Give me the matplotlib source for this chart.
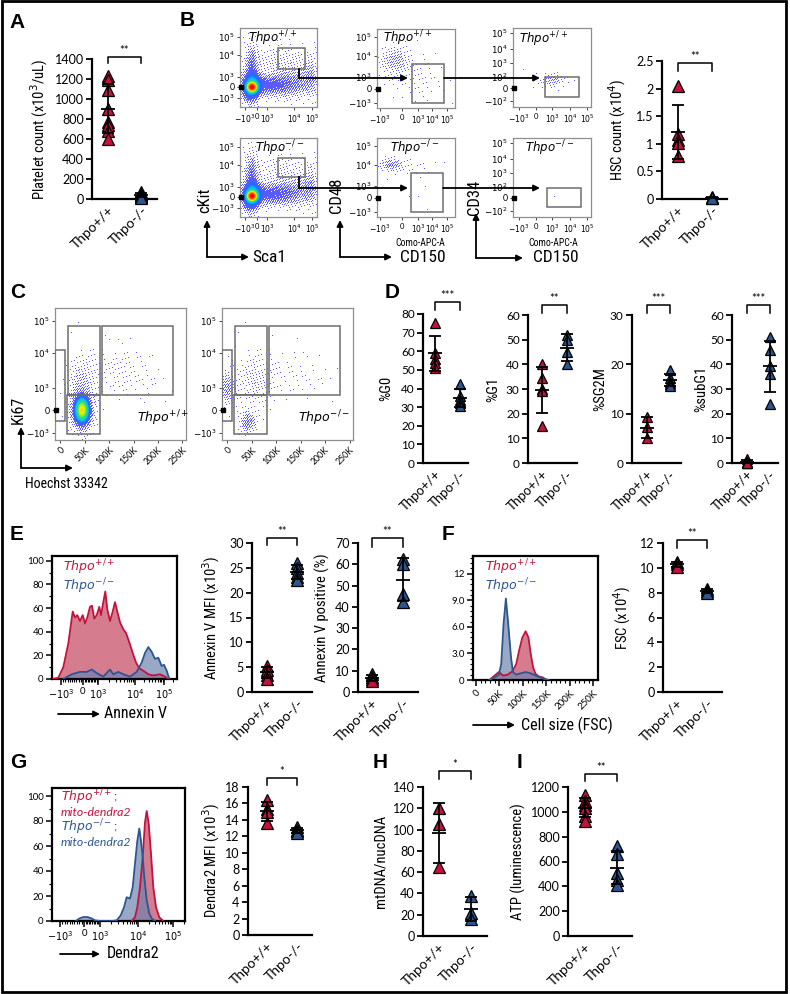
import numpy as np
import matplotlib
matplotlib.use("Agg")
import matplotlib.pyplot as plt
from matplotlib.patches import Rectangle, FancyArrowPatch
from matplotlib.lines import Line2D
from matplotlib.colors import LinearSegmentedColormap

plt.rcParams['font.family'] = ['Lato', 'DejaVu Sans']
plt.rcParams['mathtext.fontset'] = 'dejavusans'

W, H = 790, 994
RED = '#c3123b'
BLUE = '#2d5590'
NARROW = ['Roboto Condensed', 'Liberation Sans Narrow', 'Liberation Sans']
groups = ['Thpo+/+', 'Thpo-/-']
WT = r'$\mathit{Thpo}^{+/+}$'
KO = r'$\mathit{Thpo}^{-/-}$'

# ---- dot plots, one value per mouse ----
platelet_wt = [1235, 1195, 1095, 900, 775, 745, 680, 600]
platelet_ko = [75, 55, 40, 30, 20, 15]
hsc_wt = [2.05, 1.18, 1.07, 1.02, 0.78]
hsc_ko = [0.03, 0.02, 0.01]
g0_wt = [75, 59, 56, 53.5, 51]
g0_ko = [42.5, 36, 34, 32, 30.5]
g1_wt = [40, 34.5, 30, 29, 15]
g1_ko = [52, 50, 45, 40]
sg2m_wt = [9.3, 7.2, 5]
sg2m_ko = [18.8, 17.3, 16.5, 16, 15.6]
subg1_wt = [1.5, 0.6, 0.2, 0, 0]
subg1_ko = [51, 46, 39.5, 36, 24]
annexin_mfi_wt = [5.3, 4.4, 3.5, 2.7]
annexin_mfi_ko = [26, 25, 24, 23.2, 22.5]
annexin_pos_wt = [8.5, 7.2, 6, 5]
annexin_pos_ko = [62.5, 60, 46, 42.5]
fsc_wt = [10.5, 10.3, 10.1]
fsc_ko = [8.3, 8.1, 7.95]
dendra_wt = [16.4, 15.3, 14.9, 13.6]
dendra_ko = [13.1, 12.8, 12.6, 12.4]
mtdna_wt = [120, 105, 65]
mtdna_ko = [38, 22, 16]
atp_wt = [1135, 1090, 1055, 1030, 965, 930]
atp_ko = [725, 660, 510, 450, 410]

# ---- histograms ----
# E: Annexin V, x in channels of the biexponential display axis, y in % of max
annexin_x_wt = [0.3, 6.3, 11.3, 16.3, 20.7, 23, 25.3, 28, 30.7, 33, 35.3, 38, 40, 42.3, 44.7, 47.3,
                49, 51.3, 53.3, 55.3, 58, 60.7, 63, 65.3, 68, 71.3, 74, 77.3, 80.7, 84, 87.3, 91.3,
                96.3, 101.3, 108, 113, 116.3]
annexin_y_wt = [0, 1, 10, 30, 57, 52, 54, 49, 54, 47, 52, 61, 62, 51, 54, 61,
                54, 65, 74, 59, 49, 57, 65, 57, 48, 42, 39, 31, 22, 14, 9, 7,
                4, 3, 4, 2, 0]
annexin_x_ko = [11.3, 19.7, 28, 34.7, 39.7, 44.7, 51.3, 58, 61.3, 66.3, 71.3, 78, 84.7, 89.7,
                93, 96.3, 99.7, 103, 106.3, 109.7, 112, 114.7, 117.3]
annexin_y_ko = [0, 4, 6, 6, 8, 5, 2, 8, 4, 6, 4, 2, 6, 14, 22, 27, 23, 17, 18, 11, 12, 7, 0]
# F: forward scatter (K)
fsch_x_wt = [29, 40, 49, 58, 68, 78, 86, 92, 99, 106, 112, 117, 122, 127, 134, 142, 151]
fsch_y_wt = [0, 0.5, 0.9, 0.5, 0.6, 1.0, 1.8, 3.3, 4.8, 5.5, 4.8, 2.9, 1.4, 0.7, 0.4, 0.3, 0]
fsch_x_ko = [29, 40, 49, 54, 59, 64, 69, 75, 79, 86, 95, 106, 117, 127, 141, 155]
fsch_y_ko = [0, 0.3, 0.6, 1.8, 6.3, 9.2, 6.3, 2.5, 0.9, 0.6, 0.75, 0.9, 0.75, 0.5, 0.2, 0]
# G: Dendra2
dendh_x_wt = [79.7, 83, 85.3, 88, 90.7, 93, 94.7, 96.7, 98.7, 101.3, 104, 107.3, 111.3]
dendh_y_wt = [0, 3, 11, 27, 51, 79, 88, 78, 57, 27, 11, 3, 0]
dendh_x_ko = [24, 27.3, 31.3, 35.3, 39.7, 43, 48, 59.7, 64.7, 68.7, 72, 74.7, 78, 80.7, 83, 85.3,
              87.3, 89, 90.7, 92.3, 94.7, 97.3, 99.7, 103]
dendh_y_ko = [0, 2, 3.2, 3.2, 2, 0.5, 0, 0, 0.5, 4.5, 11, 19, 18, 27, 46, 64,
              74, 64, 51, 35, 16.5, 6, 2, 0]

# ---- flow density clouds: [cx, cy, sx, sy, events] in display channels ----
lsk_wt = [[12, 20, 2.5, 2.5, 40], [12, 21, 5, 6, 4], [12, 32, 4, 16, 1.0], [30, 22, 14, 6, 0.9],
          [55, 24, 14, 8, 0.45], [70, 32, 4, 10, 0.35], [42, 45, 18, 10, 0.14], [8, 10, 4, 4, 0.4]]
lsk_ko = [[12, 21, 2.5, 2.5, 40], [12, 22, 5, 6, 4], [12, 33, 4, 16, 1.0], [30, 23, 14, 6, 0.9],
          [55, 25, 14, 8, 0.45], [70, 33, 4, 10, 0.35], [42, 46, 18, 10, 0.12], [8, 11, 4, 4, 0.4]]
slam_wt = [[18, 48, 8, 7, 0.3], [25, 40, 15, 12, 0.06], [48, 25, 14, 12, 0.03]]
slam_ko = [[14, 52, 7, 3.5, 0.45], [30, 50, 15, 6, 0.05], [45, 25, 15, 12, 0.006]]
hsc34_wt = [[40, 27, 7, 3, 0.3], [38, 25, 12, 5, 0.06]]
hsc34_ko = [[45, 22, 6, 4, 0.015]]
cycle_wt = [[27, 30, 3.5, 6, 12], [27, 30, 6, 11, 1.4], [27, 58, 8, 15, 0.22],
            [62, 70, 16, 14, 0.06], [88, 60, 12, 14, 0.02]]
cycle_ko = [[5, 52, 5, 9, 0.45], [26, 18, 4.5, 6, 0.6], [34, 60, 12, 16, 0.14],
            [75, 65, 20, 14, 0.03]]

fig = plt.figure(figsize=(W / 100, H / 100), dpi=100)


def px_ax(x0, y0, x1, y1):
    return fig.add_axes([x0 / W, 1 - y1 / H, (x1 - x0) / W, (y1 - y0) / H])


def P(x, y):
    return (x / W, 1 - y / H)


def ftext(x, y, s, **kw):
    kw.setdefault('va', 'center')
    fig.text(x / W, 1 - y / H, s, **kw)


def arrow(x0, y0, x1, y1):
    fig.add_artist(FancyArrowPatch(P(x0, y0), P(x1, y1), transform=fig.transFigure,
                                   arrowstyle='-|>', mutation_scale=9, lw=1.3, color='black',
                                   shrinkA=0, shrinkB=0))


def line(xs, ys):
    fig.add_artist(Line2D([x / W for x in xs], [1 - y / H for y in ys],
                          transform=fig.transFigure, color='black', lw=1.3))


def dot_panel(box, c0, c1, wt, ko, ymax, step, ylabel, lab_x, brk, stars,
              ms=8, fs=9, ticklabels=None):
    x0, y0, x1, y1 = box
    ax = px_ax(x0, y0, x1, y1)
    unit = c1 - c0
    ax.set_xlim(-(c0 - x0) / unit, (x1 - c0) / unit)
    ax.set_ylim(0, ymax)
    for i, (vals, col) in enumerate([(wt, RED), (ko, BLUE)]):
        v = np.asarray(vals, dtype=float)
        ax.plot(np.full(v.size, i), v, '^', ms=ms, mfc=col, mec='black', mew=0.9,
                clip_on=False, zorder=3)
        ax.errorbar(i, v.mean(), yerr=v.std(ddof=1), fmt='_', ms=10, mew=1.3, color='black',
                    capsize=4.5, capthick=1.3, elinewidth=1.3, zorder=4, clip_on=False)
    ax.spines[['top', 'right']].set_visible(False)
    for sp in ('left', 'bottom'):
        ax.spines[sp].set_linewidth(1.6)
    ax.set_yticks(np.arange(0, ymax + step / 2, step))
    if ticklabels:
        ax.set_yticklabels(ticklabels)
    ax.set_xticks([0, 1])
    ax.set_xticklabels(groups, rotation=45, ha='right', rotation_mode='anchor', fontsize=fs + 1)
    ax.tick_params(axis='y', direction='out', length=4, width=1.3, labelsize=fs, pad=2)
    ax.tick_params(axis='x', length=0, pad=4)
    ax.set_ylabel(ylabel, family=NARROW, fontsize=10.5)
    ax.yaxis.set_label_coords((lab_x - x0) / (x1 - x0), 0.5)
    hp = y1 - y0
    yt = 1 + (y0 - brk[0]) / hp
    yb = 1 + (y0 - brk[1]) / hp
    tr = ax.get_xaxis_transform()
    ax.plot([0, 0, 1, 1], [yb, yt, yt, yb], color='black', lw=1.1, transform=tr, clip_on=False)
    ax.text(0.5, yt + 1 / hp, stars, transform=tr, ha='center', va='bottom', fontsize=8)
    return ax


flow_cmap = LinearSegmentedColormap.from_list(
    'flow', ['#5a5aff', '#1f6dff', '#00c8f0', '#30e070', '#f0f000', '#ff8000', '#ff0000'])


def flow_panel(box, xticks, xlabels, yticks, ylabels, blobs, gates, xrot=False):
    x0, y0, x1, y1 = box
    w, h = x1 - x0, y1 - y0
    ax = px_ax(x0, y0, x1, y1)
    gx, gy = np.meshgrid(np.arange(w) + 0.5, np.arange(h) + 0.5)
    z = np.zeros_like(gx)
    for cx, cy, sx, sy, a in blobs:
        z += a * np.exp(-0.5 * (((gx - cx) / sx) ** 2 + ((gy - cy) / sy) ** 2))
    # ordered (interleaved-gradient) dither turns event density into dots
    ix, iy = np.meshgrid(np.arange(w), np.arange(h))
    thr = np.mod(52.9829189 * np.mod(0.06711056 * ix + 0.00583715 * iy, 1.0), 1.0)
    t = np.clip(np.log(np.maximum(z, 1)) / np.log(40), 0, 1)
    rgba = flow_cmap(t)
    rgba[..., 3] = (z > thr).astype(float)
    ax.imshow(rgba, origin='lower', extent=(0, w, 0, h), interpolation='nearest',
              aspect='auto', zorder=1)
    ax.set_xlim(0, w)
    ax.set_ylim(0, h)
    for a0, b0, a1, b1 in gates:
        ax.add_patch(Rectangle((a0, b0), a1 - a0, b1 - b0, fill=False, ec='#6e6e6e',
                               lw=1.1, zorder=3))
    for sp in ax.spines.values():
        sp.set_color('#8f8f8f')
        sp.set_linewidth(0.9)
    ax.set_xticks(xticks)
    ax.set_xticklabels(xlabels)
    ax.set_yticks(yticks)
    ax.set_yticklabels(ylabels)
    ax.tick_params(direction='out', length=2.5, width=0.7, color='#444444', labelsize=6.3, pad=1.5)
    if xrot:
        plt.setp(ax.get_xticklabels(), rotation=45, ha='right', rotation_mode='anchor')
    else:
        plt.setp(ax.get_xticklabels(), fontsize=5.5)
    ax.plot([0.8], [yticks[1]], 's', ms=2.2, color='black', clip_on=False, zorder=4)
    return ax


def biex_minor(major, width):
    neg, zero, p3, p4, p5 = major
    ticks = [neg + (zero - neg) * k / 10 for k in range(1, 10)]
    ticks += [zero + (p3 - zero) * k / 10 for k in range(1, 10)]
    for a, b in ((p3, p4), (p4, p5), (p5, p5 + (p5 - p4))):
        ticks += [a + (b - a) * np.log10(k) for k in range(2, 10)]
    return [t for t in ticks if 0 < t < width]


def hist_panel(box, xw, yw, xk, yk, xlim, ylim, xticks, xlabels, yticks, ylabels,
               xminor=None, yminor=None, xrot=False):
    ax = px_ax(*box)
    ax.fill_between(xw, yw, color='#c8506a', alpha=0.75, lw=0, zorder=1)
    ax.fill_between(xk, yk, color='#6d83ad', alpha=0.7, lw=0, zorder=2)
    ax.plot(xw, yw, color=RED, lw=1.3, zorder=3)
    ax.plot(xk, yk, color=BLUE, lw=1.3, zorder=3)
    ax.set_xlim(*xlim)
    ax.set_ylim(*ylim)
    for sp in ax.spines.values():
        sp.set_linewidth(1.6)
    ax.set_xticks(xticks)
    ax.set_xticklabels(xlabels)
    ax.set_yticks(yticks)
    ax.set_yticklabels(ylabels)
    if xminor is not None:
        ax.set_xticks(xminor, minor=True)
    if yminor is not None:
        ax.set_yticks(yminor, minor=True)
    ax.tick_params(which='major', direction='out', length=4, width=1.1, labelsize=7, pad=2)
    ax.tick_params(which='minor', direction='out', length=2, width=0.8)
    if xrot:
        plt.setp(ax.get_xticklabels(), rotation=45, ha='right', rotation_mode='anchor')
    return ax


# ---------------- A ----------------
dot_panel((92, 59, 157, 199), 108, 141, platelet_wt, platelet_ko, 1400, 200,
          r'Platelet count (x10$^3$/uL)', 50, (57, 63), '**')

# ---------------- B ----------------
lab5 = [r'$-10^3$', '0', r'$10^3$', r'$10^4$', r'$10^5$']
lab6 = [r'$-10^2$', '0', r'$10^2$', r'$10^3$', r'$10^4$', r'$10^5$']
flow_panel((240, 28, 317, 107), [5, 16.5, 27, 54, 72], lab5, [9, 20, 30, 52, 70], lab5,
           lsk_wt, [(38, 38, 65, 59)])
flow_panel((377, 29, 455, 108), [3, 25, 41, 55, 70], lab5, [5, 19, 31, 52, 71], lab5,
           slam_wt, [(35, 5, 67, 44)])
flow_panel((513, 28, 591, 107), [6, 23, 39, 57, 74], lab5, [6, 19, 30, 44, 58, 74], lab6,
           hsc34_wt, [(32, 10, 66, 30)])
flow_panel((240, 138, 317, 217), [5, 16.5, 27, 54, 72], lab5, [9, 20, 30, 52, 70], lab5,
           lsk_ko, [(38, 40, 65, 59)])
flow_panel((377, 138, 455, 217), [3, 25, 41, 55, 70], lab5, [5, 19, 31, 52, 71], lab5,
           slam_ko, [(34, 5, 66, 44)])
flow_panel((513, 138, 591, 217), [6, 23, 39, 57, 74], lab5, [6, 19, 30, 44, 58, 74], lab6,
           hsc34_ko, [(34, 10, 68, 29)])
for x, y, s in [(248, 38, WT), (383, 38, WT), (519, 39, WT),
                (255, 148, KO), (390, 148, KO), (525, 148, KO)]:
    ftext(x, y, s, fontsize=8.5)
line([299, 299], [69, 78])
arrow(299, 78, 408, 78)
arrow(444, 78, 540, 78)
line([299, 299], [177, 188])
arrow(299, 188, 408, 188)
arrow(443, 188, 540, 188)
for vx, vy, top, right in [(207, 257, 220, 249), (340, 257, 220, 392), (476, 258, 213, 523)]:
    arrow(vx, vy, vx, top)
    arrow(vx, vy, right, vy)
ftext(205, 200, 'cKit', rotation=90, ha='center', family=NARROW, fontsize=12)
ftext(337, 195, 'CD48', rotation=90, ha='center', family=NARROW, fontsize=12)
ftext(475, 197, 'CD34', rotation=90, ha='center', family=NARROW, fontsize=12)
ftext(252, 257, 'Sca1', family=NARROW, fontsize=12.5)
ftext(400, 257, 'CD150', family=NARROW, fontsize=12.5)
ftext(533, 258, 'CD150', family=NARROW, fontsize=12.5)
ftext(420, 243, 'Como-APC-A', ha='center', family=NARROW, fontsize=7)
ftext(553, 243, 'Como-APC-A', ha='center', family=NARROW, fontsize=7)

dot_panel((662, 61, 727, 199), 678, 712, hsc_wt, hsc_ko, 2.5, 0.5,
          r'HSC count (x10$^4$)', 628, (63, 71), '**',
          ticklabels=['0', '0.5', '1', '1.5', '2', '2.5'])

# ---------------- C ----------------
cx_ticks = [5, 29.5, 54, 78.5, 103, 127.5]
cx_labels = ['0', '50K', '100K', '150K', '200K', '250K']
cy_ticks = [7, 30, 52, 87, 119]
c_gates = [(0, 19, 10, 90), (12, 6, 45, 45), (13, 45, 45, 114), (47, 45, 118, 114)]
flow_panel((55, 308, 186, 440), cx_ticks, cx_labels, cy_ticks, lab5, cycle_wt, c_gates, xrot=True)
flow_panel((222, 308, 353, 440), cx_ticks, cx_labels, cy_ticks, lab5, cycle_ko, c_gates, xrot=True)
ftext(137, 418, WT, fontsize=9)
ftext(298, 418, KO, fontsize=9)
arrow(21, 468, 21, 427)
arrow(21, 468, 73, 468)
ftext(18, 410, 'Ki67', rotation=90, ha='center', family=NARROW, fontsize=11.5)
ftext(25, 484, 'Hoechst 33342', family=NARROW, fontsize=10)

# ---------------- D ----------------
dot_panel((423, 314, 468, 463), 435, 460, g0_wt, g0_ko, 80, 10, '%G0', 393, (302, 310), '***',
          ms=7, fs=8.5)
dot_panel((528, 315, 577, 463), 542, 567, g1_wt, g1_ko, 60, 10, '%G1', 500, (305, 313), '**',
          ms=7, fs=8.5)
dot_panel((632, 315, 681, 463), 647, 670, sg2m_wt, sg2m_ko, 30, 10, '%SG2M', 607, (305, 313),
          '***', ms=7, fs=8.5)
dot_panel((732, 315, 778, 463), 747, 770, subg1_wt, subg1_ko, 60, 10, '%subG1', 708, (305, 313),
          '***', ms=7, fs=8.5)

# ---------------- E ----------------
e_major = [9, 31, 46, 83, 112]
hist_panel((52, 556, 177, 679), annexin_x_wt, annexin_y_wt, annexin_x_ko, annexin_y_ko,
           (0, 125), (0, 104), e_major, lab5, [0, 20, 40, 60, 80, 100],
           ['0', '20', '40', '60', '80', '100'], xminor=biex_minor(e_major, 125),
           yminor=np.arange(10, 100, 20))
ftext(63, 567, WT, color=RED, fontsize=9)
ftext(63, 586, KO, color=BLUE, fontsize=9)
arrow(58, 714, 100, 714)
ftext(104, 714, 'Annexin V', family=NARROW, fontsize=11.5)
dot_panel((252, 543, 312, 692), 267, 297, annexin_mfi_wt, annexin_mfi_ko, 30, 5,
          r'Annexin V MFI (x10$^3$)', 222, (538, 545), '**')
dot_panel((358, 543, 418, 692), 372, 403, annexin_pos_wt, annexin_pos_ko, 70, 10,
          'Annexin V positive (%)', 330, (538, 547), '**')

# ---------------- F ----------------
hist_panel((473, 556, 598, 680), fsch_x_wt, fsch_y_wt, fsch_x_ko, fsch_y_ko,
           (-6, 260), (0, 14), [0, 50, 100, 150, 200, 250], cx_labels,
           [0, 3, 6, 9, 12], ['0', '3.0', '6.0', '9.0', '12'],
           xminor=np.arange(10, 260, 10), yminor=np.arange(0.6, 14, 0.6), xrot=True)
ftext(485, 567, WT, color=RED, fontsize=9)
ftext(485, 586, KO, color=BLUE, fontsize=9)
arrow(473, 725, 515, 725)
ftext(521, 725, 'Cell size (FSC)', family=NARROW, fontsize=11.5)
dot_panel((663, 543, 722, 692), 677, 707, fsc_wt, fsc_ko, 12, 2,
          r'FSC (x10$^4$)', 633, (540, 548), '**')

# ---------------- G ----------------
g_major = [8, 32, 48, 86, 121]
hist_panel((52, 788, 185, 921), dendh_x_wt, dendh_y_wt, dendh_x_ko, dendh_y_ko,
           (0, 133), (0, 106.4), g_major, lab5, [0, 20, 40, 60, 80, 100],
           ['0', '20', '40', '60', '80', '100'], xminor=biex_minor(g_major, 133),
           yminor=np.arange(10, 100, 20))
ftext(61, 797, WT + ';', color=RED, fontsize=8.8)
ftext(61, 812, 'mito-dendra2', color=RED, fontsize=8.8, style='italic')
ftext(61, 827, KO + ';', color=BLUE, fontsize=8.8)
ftext(61, 842, 'mito-dendra2', color=BLUE, fontsize=8.8, style='italic')
arrow(60, 954, 100, 954)
ftext(107, 954, 'Dendra2', family=NARROW, fontsize=11.5)
dot_panel((248, 787, 312, 935), 267, 297, dendra_wt, dendra_ko, 18, 2,
          r'Dendra2 MFI (x10$^3$)', 222, (778, 785), '*')

# ---------------- H, I ----------------
dot_panel((423, 787, 487, 936), 439, 471, mtdna_wt, mtdna_ko, 140, 20,
          'mtDNA/nucDNA', 387, (771, 779), '*')
dot_panel((568, 787, 632, 936), 585, 617, atp_wt, atp_ko, 1200, 200,
          'ATP (luminescence)', 526, (774, 781), '**')

# panel letters
for s, x, y in [('A', 17, 22), ('B', 187, 20), ('C', 18, 293), ('D', 392, 293), ('E', 17, 535),
                ('F', 448, 535), ('G', 18, 763), ('H', 380, 763), ('I', 519, 763)]:
    ftext(x, y, s, ha='center', fontsize=15, fontweight='bold',
          family=['Liberation Sans', 'DejaVu Sans'])

fig.add_artist(Rectangle(P(2, 992), 784 / W, 991 / H, transform=fig.transFigure,
                         fill=False, ec='black', lw=2))

fig.savefig('out.png', dpi=100)
